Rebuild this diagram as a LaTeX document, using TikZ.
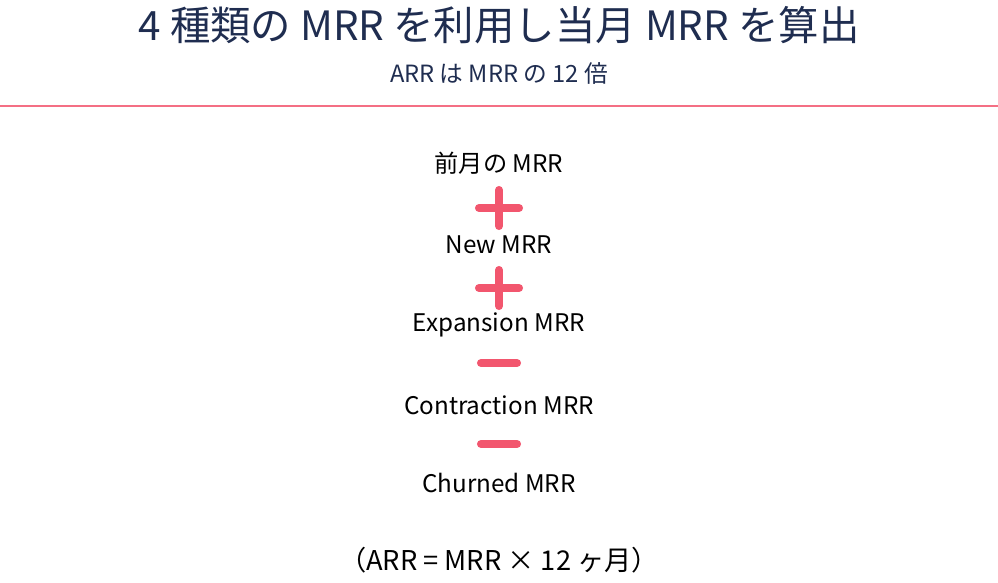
\documentclass[tikz,border=0pt]{standalone}
\usepackage{fontspec}
\setmainfont{Noto Sans CJK JP}
\usepackage{xcolor}
\definecolor{navy}{HTML}{1F2D50}
\definecolor{pink}{HTML}{F2566E}
\begin{document}
\begin{tikzpicture}[x=0.02cm,y=-0.02cm]
\tikzset{term/.style={font=\fontsize{13.8}{16}\selectfont,text=black},
sign/.style={pink,line width=4.6pt,line cap=round}}
\useasboundingbox(0,0) rectangle (998,582);
\node[text=navy,font=\fontsize{23}{27}\selectfont] (title) at (499,25){4 種類の MRR を利用し当月 MRR を算出};
\node[text=navy,font=\fontsize{13.5}{16}\selectfont] (sub) at (499,73){ARR は MRR の 12 倍};
\draw[pink!85,line width=0.8pt](0,106)--(998,106);
\node[term] (prev) at (499,163){前月の MRR};
\node[term] (new) at (499,245){New MRR};
\node[term] (exp) at (499,325){Expansion MRR};
\node[term] (con) at (499,405){Contraction MRR};
\node[term] (chu) at (499,483){Churned MRR};
\node[term,font=\fontsize{15.5}{18}\selectfont] (arr) at (499,560){（ARR = MRR × 12 ヶ月）};
\draw[sign](479,208)--(519,208);
\draw[sign](499,190)--(499,226);
\draw[sign](479,288)--(519,288);
\draw[sign](499,270)--(499,306);
\draw[sign](481,363)--(517,363);
\draw[sign](481,444)--(517,444);
\end{tikzpicture}
\end{document}
